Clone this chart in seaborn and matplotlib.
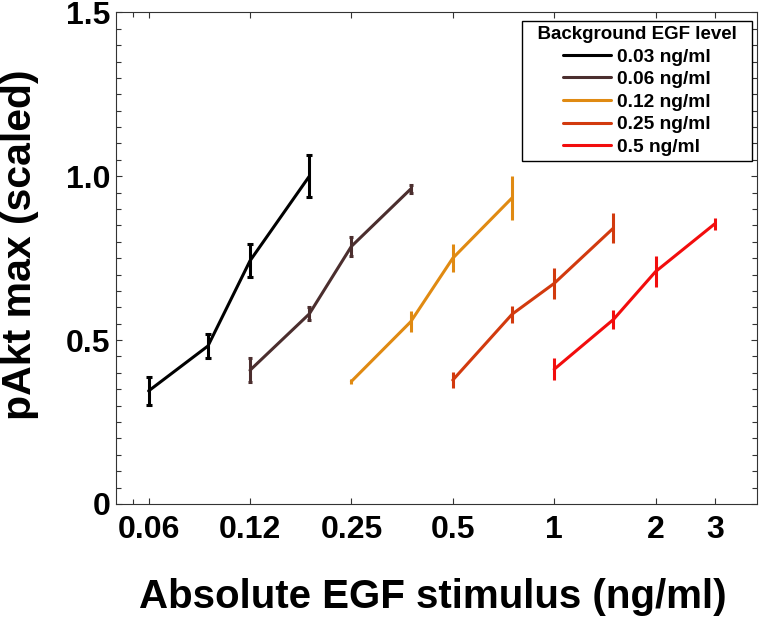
import numpy as np
import pandas as pd
import matplotlib
matplotlib.use("Agg")
import matplotlib.pyplot as plt
import matplotlib.ticker as mticker
import seaborn as sns

# Background EGF levels (legend) and their colours
backgrounds = ["0.03 ng/ml", "0.06 ng/ml", "0.12 ng/ml", "0.25 ng/ml", "0.5 ng/ml"]
colors = ["#000000", "#4b2e2e", "#e08a12", "#d23a0e", "#f20d0d"]

# Absolute EGF stimulus (ng/ml) for each background level
stim_003 = [0.0625, 0.09375, 0.125, 0.1875]
stim_006 = [0.125, 0.1875, 0.25, 0.375]
stim_012 = [0.25, 0.375, 0.5, 0.75]
stim_025 = [0.5, 0.75, 1.0, 1.5]
stim_05 = [1.0, 1.5, 2.0, 3.0]

# pAkt max (scaled)
pakt_003 = [0.345, 0.482, 0.742, 1.0]
pakt_006 = [0.408, 0.580, 0.786, 0.961]
pakt_012 = [0.374, 0.556, 0.750, 0.934]
pakt_025 = [0.378, 0.579, 0.673, 0.842]
pakt_05 = [0.411, 0.563, 0.709, 0.855]

# error bar half-widths
err_003 = [0.042, 0.036, 0.050, 0.064]
err_006 = [0.036, 0.020, 0.030, 0.011]
err_012 = [0.008, 0.032, 0.043, 0.067]
err_025 = [0.024, 0.026, 0.047, 0.047]
err_05 = [0.033, 0.030, 0.048, 0.019]

x_ticks = [0.0625, 0.125, 0.25, 0.5, 1, 2, 3]
x_tick_labels = ["0.06", "0.12", "0.25", "0.5", "1", "2", "3"]
y_ticks = [0, 0.5, 1.0, 1.5]
y_tick_labels = ["0", "0.5", "1.0", "1.5"]

stims = [stim_003, stim_006, stim_012, stim_025, stim_05]
pakts = [pakt_003, pakt_006, pakt_012, pakt_025, pakt_05]
errs = [err_003, err_006, err_012, err_025, err_05]

df = pd.concat([
    pd.DataFrame({"stimulus": s, "pakt": p, "err": e, "background": b})
    for s, p, e, b in zip(stims, pakts, errs, backgrounds)
], ignore_index=True)

sns.set_style("ticks")
plt.rcParams["font.family"] = ["Liberation Sans", "DejaVu Sans"]
plt.rcParams["font.weight"] = "bold"
plt.rcParams["text.color"] = "black"
plt.rcParams["xtick.labelcolor"] = "black"
plt.rcParams["ytick.labelcolor"] = "black"
plt.rcParams["axes.labelcolor"] = "black"

fig = plt.figure(figsize=(7.59, 6.18), dpi=100)
ax = fig.add_axes([0.1528, 0.1845, 0.8445, 0.7955])

sns.lineplot(data=df, x="stimulus", y="pakt", hue="background",
             palette=colors, hue_order=backgrounds, linewidth=2.2, ax=ax)

capsizes = [2.0, 1.5, 0, 0, 0]
for b, c, cs in zip(backgrounds, colors, capsizes):
    d = df[df["background"] == b]
    ax.errorbar(d["stimulus"], d["pakt"], yerr=d["err"], fmt="none",
                ecolor=c, elinewidth=2.2, capsize=cs, capthick=2.2)

ax.set_xscale("log")
ax.set_xlim(0.05, 4)
ax.set_ylim(0, 1.5)
ax.xaxis.set_major_locator(mticker.FixedLocator(x_ticks))
ax.xaxis.set_major_formatter(mticker.FixedFormatter(x_tick_labels))
ax.xaxis.set_minor_locator(mticker.FixedLocator([0.056]))
ax.xaxis.set_minor_formatter(mticker.NullFormatter())
ax.yaxis.set_major_locator(mticker.FixedLocator(y_ticks))
ax.yaxis.set_major_formatter(mticker.FixedFormatter(y_tick_labels))
ax.yaxis.set_minor_locator(mticker.MultipleLocator(0.05))

ax.tick_params(which="both", direction="in", top=True, right=True,
               color="#333333", width=0.8)
ax.tick_params(which="major", length=4.5)
ax.tick_params(which="minor", length=3.5)
ax.tick_params(axis="x", which="major", labelsize=23, pad=8, labelcolor="black")
ax.tick_params(axis="y", which="major", labelsize=23, pad=4, labelcolor="black")
for lbl in ax.get_xticklabels() + ax.get_yticklabels():
    lbl.set_fontweight("bold")
for sp in ax.spines.values():
    sp.set_visible(True)
    sp.set_color("#333333")
    sp.set_linewidth(0.8)

ax.set_xlabel("Absolute EGF stimulus (ng/ml)", fontsize=29, fontweight="bold", color="black")
ax.set_ylabel("pAkt max (scaled)", fontsize=29.5, fontweight="bold", color="black")
ax.xaxis.set_label_coords(0.495, -0.15)
ax.yaxis.set_label_coords(-0.12, 0.528)

handles, labels = ax.get_legend_handles_labels()
leg = ax.legend(handles, labels, title="  Background EGF level  ", loc="upper right",
                bbox_to_anchor=(0.992, 0.982), fontsize=13.8, title_fontsize=13.5,
                frameon=True, fancybox=False, framealpha=1, edgecolor="black",
                handlelength=2.5, handletextpad=0.3, labelspacing=0.27,
                borderpad=0.25, borderaxespad=0)
leg.get_frame().set_linewidth(1.0)
leg.get_title().set_fontweight("bold")
leg.get_title().set_color("black")
for t in leg.get_texts():
    t.set_fontweight("bold")
    t.set_color("black")

fig.savefig("out.png", dpi=100)
